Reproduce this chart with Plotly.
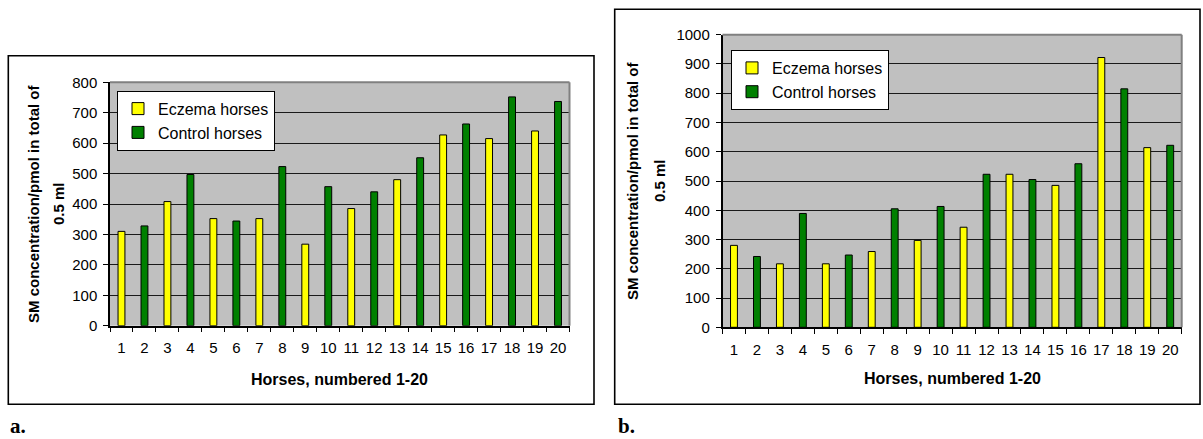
import plotly.graph_objects as go

W, H = 1203, 439

# ---- data ----
horse_labels = [str(i) for i in range(1, 21)]
eczema_ids = ["1", "3", "5", "7", "9", "11", "13", "15", "17", "19"]
control_ids = ["2", "4", "6", "8", "10", "12", "14", "16", "18", "20"]

a_eczema = [310, 408, 352, 352, 268, 385, 480, 627, 615, 640]
a_control = [328, 497, 344, 523, 457, 440, 552, 663, 752, 737]

b_eczema = [280, 217, 217, 259, 297, 342, 523, 485, 922, 614]
b_control = [242, 389, 247, 405, 413, 523, 505, 559, 815, 622]

series_names = ["Eczema horses", "Control horses"]
y_title_1 = "SM concentration/pmol in total of"
y_title_2 = "0.5 ml"
x_title = "Horses, numbered 1-20"
panel_labels = ["a.", "b."]

YELLOW = "#FFFF00"
GREEN = "#008000"
FONT = "Arial, Liberation Sans, sans-serif"


def px(x):
    return x / W


def py(y):
    return 1 - y / H


fig = go.Figure()

bar_line = dict(color="#000000", width=1)
fig.add_trace(go.Bar(x=eczema_ids, y=a_eczema, name=series_names[0], marker=dict(color=YELLOW, line=bar_line),
                     width=0.3, xaxis="x", yaxis="y", legend="legend"))
fig.add_trace(go.Bar(x=control_ids, y=a_control, name=series_names[1], marker=dict(color=GREEN, line=bar_line),
                     width=0.3, xaxis="x", yaxis="y", legend="legend"))
fig.add_trace(go.Bar(x=eczema_ids, y=b_eczema, name=series_names[0], marker=dict(color=YELLOW, line=bar_line),
                     width=0.3, xaxis="x2", yaxis="y2", legend="legend2"))
fig.add_trace(go.Bar(x=control_ids, y=b_control, name=series_names[1], marker=dict(color=GREEN, line=bar_line),
                     width=0.3, xaxis="x2", yaxis="y2", legend="legend2"))

xaxis_common = dict(
    type="category", categoryorder="array", categoryarray=horse_labels,
    tickson="boundaries", ticks="outside", ticklen=5, tickcolor="#000000",
    showline=True, linecolor="#000000", linewidth=1.5, showgrid=False,
    tickfont=dict(family=FONT, size=15, color="#000000"), ticklabelstandoff=8,
    tickangle=0, automargin=False, fixedrange=True,
)
yaxis_common = dict(
    dtick=100, ticks="outside", ticklen=5, tickcolor="#000000",
    showline=True, linecolor="#000000", linewidth=1.5,
    showgrid=True, gridcolor="#1a1a1a", gridwidth=1.2, zeroline=False,
    tickfont=dict(family=FONT, size=15, color="#000000"), ticklabelstandoff=3,
    automargin=False, fixedrange=True,
)

legend_common = dict(xanchor="left", yanchor="top", bgcolor="#FFFFFF", bordercolor="#000000", borderwidth=1,
                     font=dict(family=FONT, size=16, color="#000000"), tracegroupgap=0,
                     traceorder="normal", itemclick=False, itemdoubleclick=False)

fig.update_layout(
    width=W, height=H,
    margin=dict(l=0, r=0, t=0, b=0, autoexpand=False),
    paper_bgcolor="#FFFFFF",
    plot_bgcolor="#C0C0C0",
    barmode="overlay",
    font=dict(family=FONT, color="#000000"),
    xaxis=dict(domain=[px(110), px(569.5)], anchor="y", **xaxis_common),
    yaxis=dict(domain=[py(325.7), py(82.3)], anchor="x", range=[0, 800], **yaxis_common),
    xaxis2=dict(domain=[px(722.5), px(1181.7)], anchor="y2", **xaxis_common),
    yaxis2=dict(domain=[py(327.3), py(34.7)], anchor="x2", range=[0, 1000], **yaxis_common),
    legend=dict(x=px(117), y=py(90.7), **legend_common),
    legend2=dict(x=px(731), y=py(50), **legend_common),
    showlegend=True,
)

shapes = []
# outer chart frames
for (x0, x1, y0, y1) in [(8.3, 594, 55.7, 404.3), (614.7, 1200, 9.3, 404.3)]:
    shapes.append(dict(type="rect", xref="paper", yref="paper", x0=px(x0), x1=px(x1), y0=py(y1), y1=py(y0),
                       line=dict(color="#000000", width=1.6), fillcolor="rgba(0,0,0,0)", layer="above"))
# gray top/right plot-area border
for xr, yr in [("x", "y"), ("x2", "y2")]:
    shapes.append(dict(type="line", xref=f"{xr} domain", yref=f"{yr} domain", x0=0, x1=1, y0=1, y1=1,
                       line=dict(color="#808080", width=2), layer="above"))
    shapes.append(dict(type="line", xref=f"{xr} domain", yref=f"{yr} domain", x0=1, x1=1, y0=0, y1=1,
                       line=dict(color="#808080", width=2), layer="above"))
fig.update_layout(shapes=shapes)

ann = []
title_font = dict(family=FONT, size=15, color="#000000", weight="bold")
for (x1, x2, yc) in [(33, 58, 204), (633, 660, 181)]:
    ann.append(dict(text=y_title_1, x=px(x1), y=py(yc), xref="paper", yref="paper", showarrow=False,
                    textangle=-90, xanchor="center", yanchor="middle", font=title_font))
    ann.append(dict(text=y_title_2, x=px(x2), y=py(yc), xref="paper", yref="paper", showarrow=False,
                    textangle=-90, xanchor="center", yanchor="middle", font=title_font))
xtitle_font = dict(family=FONT, size=16, color="#000000", weight="bold")
for (xc, yc) in [(339.7, 379), (952, 378)]:
    ann.append(dict(text=x_title, x=px(xc), y=py(yc), xref="paper", yref="paper", showarrow=False,
                    xanchor="center", yanchor="middle", font=xtitle_font))
for lab, xc in zip(panel_labels, [18, 626]):
    ann.append(dict(text=lab, x=px(xc), y=py(438.5), xref="paper", yref="paper", showarrow=False,
                    xanchor="center", yanchor="bottom", borderpad=0,
                    font=dict(family="Liberation Serif, Times New Roman, serif", size=21, color="#000000",
                              weight="bold")))
fig.update_layout(annotations=ann)

fig.write_html("out.html", config={"displayModeBar": False},
               post_script="document.body.style.margin='0px';document.body.style.overflow='hidden';")
